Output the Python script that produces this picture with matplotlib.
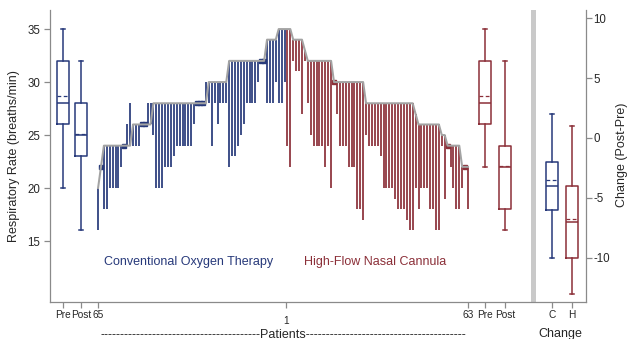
import matplotlib
matplotlib.use("Agg")
import matplotlib.pyplot as plt
import numpy as np

plt.rcParams['font.family'] = ['Liberation Sans', 'DejaVu Sans']
plt.rcParams['axes.unicode_minus'] = False

# ---------------- data ----------------
# Conventional Oxygen Therapy, patients ordered 65 -> 1 (sorted by pre value)
cot_pre = [20, 22] + [24]*10 + [26]*7 + [28]*19 + [30]*7 + [32]*13 + [34]*4 + [35]*3
cot_post = [16, 22,
            18, 18, 20, 20, 20, 20, 22, 24, 26, 28,
            24, 24, 24, 26, 26, 28, 28,
            25, 20, 20, 20, 22, 22, 22, 23, 24, 24, 24, 24, 24, 24, 26, 28, 28, 28, 30,
            28, 24, 28, 26, 28, 28, 28,
            22, 23, 23, 24, 25, 26, 28, 28, 28, 28, 30, 32, 32,
            28, 28, 28, 30,
            28, 28, 30]
# High-Flow Nasal Cannula, patients ordered 1 -> 63
hfnc_pre = [35, 35, 34, 34, 34, 34, 33] + [32]*9 + [30]*11 + [28]*17 + [27] + [26]*8 + [25]*2 + [24]*5 + [22]*3
hfnc_post = [24, 22, 32, 31, 31, 27, 32,
             28, 25, 24, 24, 24, 24, 22, 24, 20,
             30, 27, 24, 24, 24, 22, 22, 22, 18, 18, 17,
             25, 24, 24, 24, 24, 23, 20, 20, 20, 20, 19, 18, 18, 18, 17, 16, 16,
             20,
             18, 20, 20, 20, 18, 18, 16, 16,
             24, 19,
             24, 22, 20, 18, 18,
             20, 22, 18]

# box-plot summaries
box_groups = ["COT Pre", "COT Post", "HFNC Pre", "HFNC Post"]
box_med = [28, 25, 28, 22]
box_q1 = [26, 23, 26, 18]
box_q3 = [32, 28, 32, 24]
box_lo = [20, 16, 22, 16]
box_hi = [35, 32, 35, 32]
box_mean = [28.65, 25.1, 28.65, 22.1]

chg_groups = ["C", "H"]
chg_med = [-4, -7]
chg_q1 = [-6, -10]
chg_q3 = [-2, -4]
chg_lo = [-10, -13]
chg_hi = [2, 1]
chg_mean = [-3.5, -6.8]

xtick_labels = ["Pre", "Post", "65", "63", "Pre", "Post", "C", "H"]

# ---------------- style ----------------
NAVY = '#27397a'
MAROON = '#8b2f38'
GREY = '#a3a3a3'
SPINE = '#8a8a8a'
TXT = '#262626'

fig = plt.figure(figsize=(6.27, 3.39), dpi=100)
ax = fig.add_axes([50/627, 37/339, 536/627, 292/339])
ax2 = ax.twinx()

n_cot = len(cot_pre)
n_hf = len(hfnc_pre)
x_cot = np.arange(n_cot)
x_hf = np.arange(n_hf) + n_cot

def spikes(x, pre, post, col):
    pre = np.asarray(pre, float); post = np.asarray(post, float)
    ax.vlines(x, pre, post, color=col, linewidth=1.25, zorder=2)
    eq = pre == post
    ax.plot(np.asarray(x)[eq], pre[eq], 's', color=col, markersize=2.2, zorder=2)

spikes(x_cot, cot_pre, cot_post, NAVY)
spikes(x_hf, hfnc_pre, hfnc_post, MAROON)
ax.plot(np.concatenate([x_cot, x_hf]), np.concatenate([cot_pre, hfnc_pre]),
        color=GREY, linewidth=1.45, zorder=3, solid_joinstyle='round')

# box plots
pos_boxes = [-12.0, -5.8, 132.9, 139.7]
pos_chg = [155.9, 162.7]

def draw_box(axis, st, pos, col):
    props = dict(color=col, linewidth=1.1)
    axis.bxp([st], positions=[pos], widths=4.2, capwidths=1.4, showmeans=True,
             meanline=True, showfliers=False, manage_ticks=False,
             boxprops=props, whiskerprops=props, capprops=props,
             medianprops=props,
             meanprops=dict(color=col, linewidth=0.9, linestyle=(0, (3, 2))))

for i in range(4):
    st = dict(med=box_med[i], q1=box_q1[i], q3=box_q3[i], whislo=box_lo[i],
              whishi=box_hi[i], mean=box_mean[i], fliers=[])
    draw_box(ax, st, pos_boxes[i], NAVY if i < 2 else MAROON)
for i in range(2):
    st = dict(med=chg_med[i], q1=chg_q1[i], q3=chg_q3[i], whislo=chg_lo[i],
              whishi=chg_hi[i], mean=chg_mean[i], fliers=[])
    draw_box(ax2, st, pos_chg[i], NAVY if i == 0 else MAROON)

ax.axvspan(148.7, 150.2, color='#c9c9c9', lw=0, zorder=1)

# axes limits
ax.set_xlim(-16.5, 167.5)
ax.set_ylim(9.25, 36.8)
ax2.set_ylim(-13.7, 10.69)

ax.set_yticks([15, 20, 25, 30, 35])
ax2.set_yticks([-10, -5, 0, 5, 10])
ax.set_xticks([-12.0, -5.8, 0, 127, 132.9, 139.7, 155.9, 162.7], labels=xtick_labels)
ax.set_xticks([64.5], labels=["1"], minor=True)

for a in (ax, ax2):
    for s in a.spines.values():
        s.set_color(SPINE)
        s.set_linewidth(0.9)
    a.spines['top'].set_visible(False)
ax.spines['right'].set_visible(False)
ax2.spines['left'].set_visible(False)
ax2.spines['bottom'].set_visible(False)

ax.tick_params(axis='y', length=4, width=0.9, color=SPINE, labelsize=8.3, labelcolor=TXT, pad=3)
ax2.tick_params(axis='y', length=4, width=0.9, color=SPINE, labelsize=8.3, labelcolor=TXT, pad=1.5)
ax.tick_params(axis='x', which='major', length=4, width=0.9, color=SPINE, labelsize=7.3, labelcolor=TXT, pad=1.5)
ax.tick_params(axis='x', which='minor', length=4, width=0.9, color=SPINE, labelsize=7.3, labelcolor=TXT, pad=6)

# group labels
ax.text(2.0, 13.0, "Conventional Oxygen Therapy", color=NAVY, fontsize=9, ha='left', va='center')
ax.text(70.7, 13.0, "High-Flow Nasal Cannula", color=MAROON, fontsize=9, ha='left', va='center')

fig.text(14/627, 1 - 156/339, "Respiratory Rate (breaths/min)", rotation=90,
         ha='center', va='center', fontsize=9, color=TXT)
fig.text(622/627, 1 - 155/339, "Change (Post-Pre)", rotation=90,
         ha='center', va='center', fontsize=9, color=TXT)

dashes = '-' * 40
fig.text(283.5/627, 1 - 334.5/339, dashes + "Patients" + dashes, ha='center', va='center',
         fontsize=9, color=TXT)
fig.text(560/627, 1 - 334.5/339, "Change", ha='center', va='center', fontsize=9, color=TXT)

fig.savefig("out.png", dpi=100, facecolor='white')
